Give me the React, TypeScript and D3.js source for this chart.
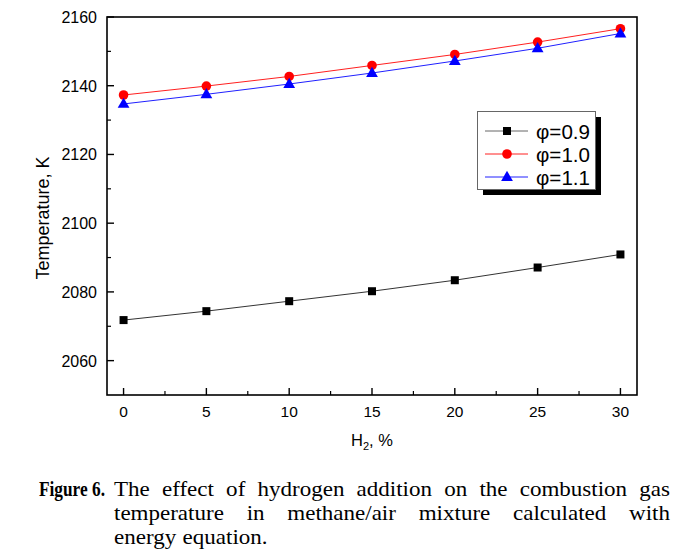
import React, { useEffect, useRef } from "react";
import * as d3 from "d3";

const h2Percent = [0, 5, 10, 15, 20, 25, 30];
const tPhi09 = [2071.8, 2074.4, 2077.3, 2080.2, 2083.4, 2087.1, 2090.9];
const tPhi10 = [2137.3, 2139.9, 2142.7, 2145.9, 2149.1, 2152.7, 2156.6];
const tPhi11 = [2134.7, 2137.5, 2140.5, 2143.7, 2147.2, 2150.9, 2155.2];
const seriesLabels = ["\u03c6=0.9", "\u03c6=1.0", "\u03c6=1.1"];
const xTicks = [0, 5, 10, 15, 20, 25, 30];
const xMinorTicks = [2.5, 7.5, 12.5, 17.5, 22.5, 27.5];
const yTicks = [2060, 2080, 2100, 2120, 2140, 2160];
const yMinorTicks = [2070, 2090, 2110, 2130, 2150];
const captionLead = "Figure 6.";
const captionLines = [
  "The effect of hydrogen addition on the combustion gas",
  "temperature in methane/air mixture calculated with",
  "energy equation.",
];

const W = 686;
const H = 558;
const plot = { left: 107, right: 637, top: 17, bottom: 395 };

export default function App() {
  const captionRef = useRef<SVGGElement>(null);

  const x = d3.scaleLinear().domain([-1, 31]).range([plot.left, plot.right]);
  const y = d3.scaleLinear().domain([2050, 2160]).range([plot.bottom, plot.top]);
  const line = d3
    .line<number>()
    .x((_, i) => x(h2Percent[i]))
    .y((d) => y(d));

  const series = [
    { data: tPhi09, color: "#000", lineColor: "#333", shape: "square" },
    { data: tPhi10, color: "#ff0000", lineColor: "#ff2020", shape: "circle" },
    { data: tPhi11, color: "#0000ff", lineColor: "#2020ff", shape: "triangle" },
  ];

  const marker = (shape: string, cx: number, cy: number, color: string, key: any) => {
    if (shape === "square")
      return <rect key={key} x={cx - 4} y={cy - 4} width={8} height={8} fill={color} />;
    if (shape === "circle") return <circle key={key} cx={cx} cy={cy} r={4.8} fill={color} />;
    const sym = d3.symbol().type(d3.symbolTriangle).size(60)();
    return <path key={key} d={sym || ""} transform={`translate(${cx},${cy + 0.5})`} fill={color} />;
  };

  useEffect(() => {
    const g = d3.select(captionRef.current);
    g.selectAll("*").remove();
    const fontSize = 21.5;
    const stretch = 1.07;
    const textLeft = 114;
    const textRight = 670;
    const baselines = [496, 520, 544];
    const serif = "'Liberation Serif', 'Times New Roman', serif";
    const lead = g
      .append("text")
      .attr("x", 0)
      .attr("y", 0)
      .attr("font-family", serif)
      .attr("font-weight", "bold")
      .attr("font-size", fontSize)
      .text(captionLead);
    const leadW = (lead.node() as SVGTextElement).getComputedTextLength();
    const sx = 66 / leadW;
    lead.attr("transform", `translate(39,${baselines[0]}) scale(${sx},1)`);
    captionLines.forEach((ln, li) => {
      const words = ln.split(" ");
      const nodes = words.map((w) =>
        g
          .append("text")
          .attr("y", baselines[li])
          .attr("font-family", serif)
          .attr("font-size", fontSize)
          .text(w)
      );
      const widths = nodes.map((n) => (n.node() as SVGTextElement).getComputedTextLength() * stretch);
      nodes.forEach((n, i) => {
        n.attr("textLength", widths[i]).attr("lengthAdjust", "spacingAndGlyphs");
      });
      const total = widths.reduce((a, b) => a + b, 0);
      const justify = li < captionLines.length - 1;
      const gap = justify ? (textRight - textLeft - total) / (words.length - 1) : fontSize * 0.3;
      let cx = textLeft;
      nodes.forEach((n, i) => {
        n.attr("x", cx);
        cx += widths[i] + gap;
      });
    });
  }, []);

  const sans = "'Liberation Sans', Arial, sans-serif";

  return (
    <svg width={W} height={H} style={{ display: "block", position: "absolute", left: 0, top: 0 }}>
      <rect x={0} y={0} width={W} height={H} fill="#fff" />
      {/* series */}
      {series.map((s, si) => (
        <g key={si}>
          <path d={line(s.data) || ""} fill="none" stroke={s.lineColor} strokeWidth={1} />
          {s.data.map((v, i) => marker(s.shape, x(h2Percent[i]), y(v), s.color, i))}
        </g>
      ))}
      {/* frame */}
      <rect
        x={plot.left}
        y={plot.top}
        width={plot.right - plot.left}
        height={plot.bottom - plot.top}
        fill="none"
        stroke="#000"
        strokeWidth={1.6}
      />
      {/* x ticks */}
      {xTicks.map((t) => (
        <g key={"xt" + t}>
          <line x1={x(t)} x2={x(t)} y1={plot.bottom} y2={plot.bottom - 7} stroke="#000" strokeWidth={1.4} />
          <text x={x(t)} y={417} textAnchor="middle" fontFamily={sans} fontSize={15.5}>
            {t}
          </text>
        </g>
      ))}
      {xMinorTicks.map((t) => (
        <line key={"xm" + t} x1={x(t)} x2={x(t)} y1={plot.bottom} y2={plot.bottom - 4} stroke="#000" strokeWidth={1.2} />
      ))}
      {/* y ticks */}
      {yTicks.map((t) => (
        <g key={"yt" + t}>
          <line x1={plot.left} x2={plot.left + 7} y1={y(t)} y2={y(t)} stroke="#000" strokeWidth={1.4} />
          <text x={97} y={y(t) + 6} textAnchor="end" fontFamily={sans} fontSize={16}>
            {t}
          </text>
        </g>
      ))}
      {yMinorTicks.map((t) => (
        <line key={"ym" + t} x1={plot.left} x2={plot.left + 4} y1={y(t)} y2={y(t)} stroke="#000" strokeWidth={1.2} />
      ))}
      {/* axis titles */}
      <text x={372} y={446} textAnchor="middle" fontFamily={sans} fontSize={16.5}>
        H<tspan fontSize={11} dy={4}>2</tspan>
        <tspan dy={-4}>, %</tspan>
      </text>
      <text
        transform="translate(49,218) rotate(-90)"
        textAnchor="middle"
        fontFamily={sans}
        fontSize={18}
      >
        Temperature, K
      </text>
      {/* legend */}
      <g>
        <rect x={483} y={117} width={118} height={78} fill="#000" />
        <rect x={477.5} y={111.5} width={118} height={78} fill="#fff" stroke="#666" strokeWidth={1} />
        {series.map((s, i) => {
          const ly = 131 + i * 23;
          return (
            <g key={"lg" + i}>
              <line x1={485} x2={528} y1={ly} y2={ly} stroke={i === 0 ? "#666" : s.lineColor} strokeWidth={1} />
              {marker(s.shape, 507, ly, s.color, "m")}
              <text
                x={536}
                y={ly + 7.5}
                fontFamily={sans}
                fontSize={20}
                textLength={54}
                lengthAdjust="spacingAndGlyphs"
              >
                {seriesLabels[i]}
              </text>
            </g>
          );
        })}
      </g>
      <g ref={captionRef} />
    </svg>
  );
}
